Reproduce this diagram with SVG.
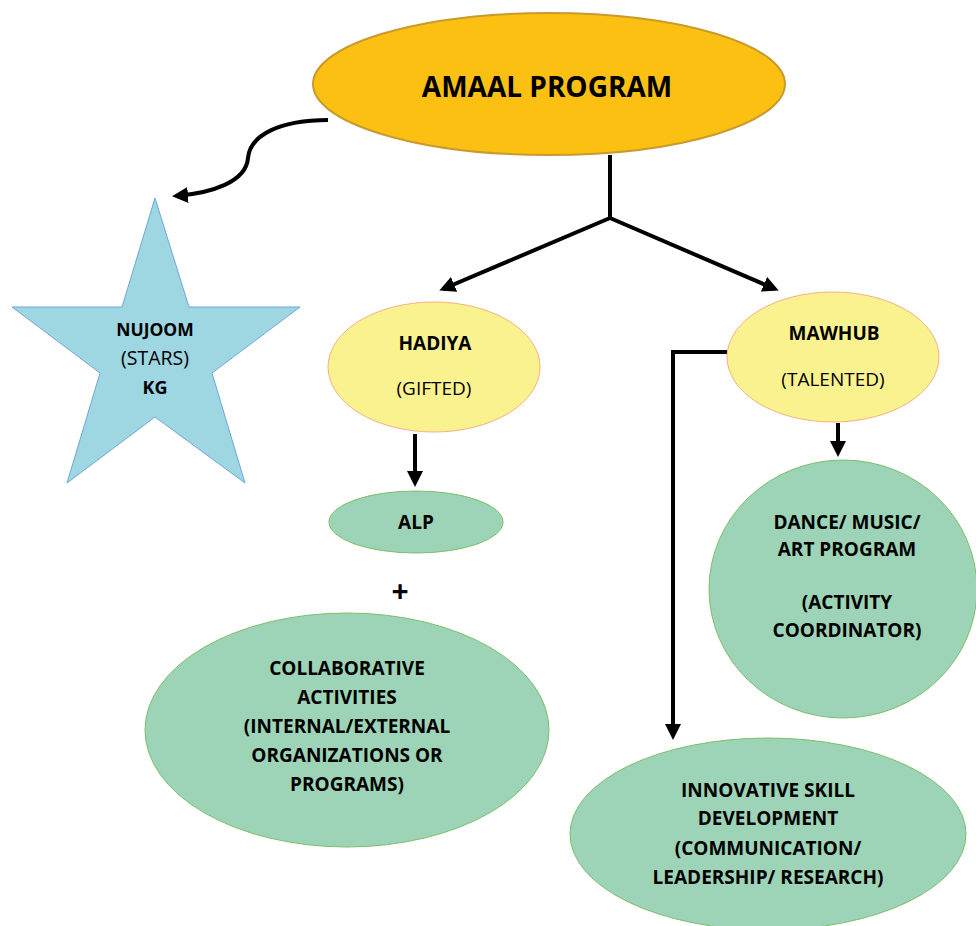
<svg xmlns="http://www.w3.org/2000/svg" width="976" height="926" viewBox="0 0 976 926">
<defs>
<marker id="ah" markerWidth="4" markerHeight="4" refX="3" refY="2" orient="auto" markerUnits="strokeWidth">
<path d="M0,0 L4,2 L0,4 Z" fill="#000"/>
</marker>
<style>
text{font-family:"Open Sans","Liberation Sans",sans-serif;fill:#000;text-anchor:middle}
.b{font-weight:bold;font-size:19px}
.r{font-size:19px}
.s{font-size:17.5px}
.gold{fill:#FBC012;stroke:#C99A2E;stroke-width:2}
.yel{fill:#FAF28F;stroke:#F4B183;stroke-width:1}
.grn{fill:#9DD3B6;stroke:#7DC06A;stroke-width:1}
.star{fill:#9ED6E2;stroke:#6FA8D8;stroke-width:1}
.c{fill:none;stroke:#000;stroke-width:4;marker-end:url(#ah)}
.cn{fill:none;stroke:#000;stroke-width:4}
</style>
</defs>
<g id="connectors">
<path class="c" d="M328,120 C280,120 250,135 248,158 C246,182 212,193 176,196"/>
<path class="cn" d="M610,155 L610,218"/>
<path class="c" d="M610,218 L443,289"/>
<path class="c" d="M610,218 L775,289"/>
<path class="c" d="M415,434 L415,483"/>
<path class="c" d="M838,423 L838,453"/>
<path class="c" d="M727,352 L673,352 L673,736"/>
</g>
<g id="amaal">
<ellipse class="gold" cx="549" cy="84" rx="236" ry="71"/>
<text x="547" y="97" style="font-weight:bold;font-size:28px">AMAAL PROGRAM</text>
</g>
<g id="nujoom">
<polygon class="star" points="155,198 189,307 300,307 212,373 245,483 155,417 67,483 100,373 12,307 122,307"/>
<text class="b s" x="155" y="336">NUJOOM</text>
<text x="155" y="365" style="font-size:19.5px">(STARS)</text>
<text class="b" x="155" y="394" style="font-size:18px">KG</text>
</g>
<g id="hadiya">
<ellipse class="yel" cx="434" cy="367" rx="106" ry="65"/>
<text class="b" x="435" y="350">HADIYA</text>
<text class="r" x="434" y="395">(GIFTED)</text>
</g>
<g id="alp">
<ellipse class="grn" cx="416" cy="522" rx="87" ry="31"/>
<text class="b" x="416" y="529">ALP</text>
</g>
<g id="plus">
<text x="400" y="602" style="font-weight:bold;font-size:30px">+</text>
</g>
<g id="collab">
<ellipse class="grn" cx="347" cy="730" rx="202" ry="117"/>
<text class="b" x="347" y="675">COLLABORATIVE</text>
<text class="b" x="347" y="704">ACTIVITIES</text>
<text class="b" x="347" y="733">(INTERNAL/EXTERNAL</text>
<text class="b" x="347" y="762">ORGANIZATIONS OR</text>
<text class="b" x="347" y="791">PROGRAMS)</text>
</g>
<g id="mawhub">
<ellipse class="yel" cx="833" cy="357" rx="106" ry="65"/>
<text class="b" x="834" y="340">MAWHUB</text>
<text class="r" x="833" y="386">(TALENTED)</text>
</g>
<g id="dance">
<ellipse class="grn" cx="843" cy="589" rx="134" ry="129"/>
<text class="b" x="847" y="529">DANCE/ MUSIC/</text>
<text class="b" x="847" y="556">ART PROGRAM</text>
<text class="b" x="847" y="609">(ACTIVITY</text>
<text class="b" x="847" y="637">COORDINATOR)</text>
</g>
<g id="innovative">
<ellipse class="grn" cx="768" cy="834" rx="198" ry="96"/>
<text class="b" x="768" y="797">INNOVATIVE SKILL</text>
<text class="b" x="768" y="825">DEVELOPMENT</text>
<text class="b" x="768" y="855">(COMMUNICATION/</text>
<text class="b" x="768" y="884">LEADERSHIP/ RESEARCH)</text>
</g>
</svg>
